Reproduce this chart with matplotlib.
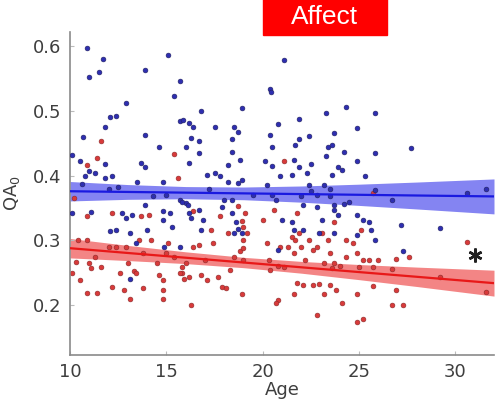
import numpy as np
import matplotlib
matplotlib.use("Agg")
import matplotlib.pyplot as plt
from matplotlib.patches import Rectangle

# ---- data ----
blue_age = [10.9, 11.5, 11.7, 11.0, 10.7, 10.1, 10.5, 10.8, 11.0, 11.3, 10.6, 10.1, 11.1, 11.8, 11.8, 11.8,
            12.1, 12.4, 12.9, 12.2, 12.5, 12.4, 12.1, 12.7, 12.9, 13.2, 13.1, 13.4, 13.1, 13.9, 13.9, 13.7,
            13.9, 14.6, 13.9, 14.0, 14.3, 14.8, 14.8, 14.9, 15.1, 15.4, 15.7, 15.7, 15.85, 16.2, 16.4, 16.8,
            16.3, 16.7, 16.0, 16.2, 16.7, 17.5, 17.1, 17.5, 17.8, 15.7, 16.0, 16.2, 16.3, 16.7, 16.9, 16.8,
            15.2, 15.3, 15.7, 14.8, 18.5, 18.7, 18.4, 18.9, 18.4, 18.2, 18.8, 18.9, 18.7, 18.2, 18.0, 17.9,
            18.4, 18.4, 18.6, 18.7, 18.5, 18.9, 20.4, 20.45, 20.8, 20.4, 21.1, 20.5, 20.1, 20.5, 20.9, 20.2,
            20.7, 21.0, 20.8, 21.9, 21.7, 21.9, 22.4, 21.6, 21.9, 22.3, 22.5, 21.5, 22.4, 22.5, 22.0, 21.5,
            21.6, 22.1, 22.1, 23.3, 24.3, 23.7, 24.9, 23.4, 23.6, 23.3, 24.2, 23.9, 24.1, 24.9, 25.3, 25.8,
            25.8, 27.7, 23.6, 23.2, 23.5, 23.7, 22.8, 23.1, 23.7, 22.9, 24.2, 24.9, 25.2, 25.5, 25.6, 25.8,
            24.9, 27.2, 29.2, 27.3, 26.7, 30.6, 31.6, 25.8,
            12.0, 13.5, 15.0, 17.2, 19.5, 20.5, 22.8, 23.5, 24.5, 16.1, 15.8, 23.7, 23.9]
blue_qa = [0.597, 0.560, 0.581, 0.552, 0.460, 0.432, 0.422, 0.400, 0.407, 0.404, 0.387, 0.342, 0.344, 0.475, 0.418, 0.396,
           0.491, 0.493, 0.513, 0.400, 0.383, 0.316, 0.315, 0.342, 0.334, 0.340, 0.311, 0.296, 0.241, 0.564, 0.463, 0.419,
           0.414, 0.445, 0.355, 0.316, 0.369, 0.391, 0.332, 0.290, 0.587, 0.523, 0.547, 0.484, 0.486, 0.481, 0.475, 0.500,
           0.459, 0.453, 0.445, 0.419, 0.435, 0.476, 0.401, 0.404, 0.399, 0.363, 0.358, 0.342, 0.334, 0.347, 0.332, 0.316,
           0.342, 0.321, 0.290, 0.345, 0.476, 0.468, 0.457, 0.505, 0.437, 0.417, 0.425, 0.394, 0.389, 0.391, 0.363, 0.352,
           0.363, 0.342, 0.329, 0.317, 0.311, 0.311, 0.534, 0.529, 0.480, 0.463, 0.578, 0.445, 0.422, 0.415, 0.400, 0.386,
           0.363, 0.332, 0.285, 0.487, 0.448, 0.456, 0.461, 0.425, 0.414, 0.404, 0.418, 0.401, 0.386, 0.376, 0.368, 0.329,
           0.316, 0.316, 0.355, 0.497, 0.506, 0.466, 0.473, 0.445, 0.448, 0.430, 0.437, 0.414, 0.409, 0.422, 0.400, 0.435,
           0.497, 0.443, 0.401, 0.386, 0.368, 0.347, 0.352, 0.332, 0.311, 0.311, 0.357, 0.339, 0.332, 0.329, 0.316, 0.301,
           0.308, 0.324, 0.319, 0.283, 0.363, 0.373, 0.380, 0.378,
           0.380, 0.390, 0.370, 0.380, 0.370, 0.370, 0.370, 0.380, 0.360, 0.355, 0.360, 0.355, 0.340]

red_age = [10.2, 10.3, 10.1, 10.5, 10.9, 11.4, 10.9, 11.0, 11.1, 11.3, 11.6, 10.9, 10.9, 11.4, 11.6, 10.4,
           12.2, 12.2, 12.4, 12.6, 12.8, 13.1, 13.0, 13.3, 13.4, 13.8, 13.6, 13.8, 13.7, 14.1, 14.6, 14.8,
           14.8, 14.8, 14.5, 15.0, 15.1, 15.4, 15.6, 15.4, 15.8, 15.8, 16.0, 16.3, 16.2, 16.4, 16.7, 16.8,
           17.1, 17.4, 17.7, 17.9, 18.1, 18.3, 18.5, 18.8, 18.9, 19.1, 19.2, 19.0, 18.7, 16.4, 17.3, 17.8,
           18.2, 20.0, 20.2, 20.3, 20.8, 20.7, 20.4, 21.1, 20.6, 21.1, 21.5, 21.7, 21.9, 21.6, 21.6, 21.8,
           22.1, 22.6, 22.9, 22.8, 21.8, 22.2, 22.6, 23.1, 23.4, 23.2, 23.6, 23.7, 23.5, 23.2, 23.8, 24.1,
           24.3, 24.7, 24.9, 24.3, 24.9, 24.9, 25.2, 25.0, 25.5, 25.7, 25.7, 26.7, 26.7, 27.3, 26.9, 26.9,
           27.6, 29.2, 30.6, 31.6, 23.7, 25.1, 25.7,
           19.0, 19.0, 19.0, 18.9, 21.3, 22.0, 22.4, 22.8, 23.5, 24.0, 25.2, 26.0, 15.7, 15.9, 14.2, 12.0,
           12.9, 17.0, 20.8, 20.9]
red_qa = [0.365, 0.267, 0.249, 0.239, 0.219, 0.219, 0.301, 0.265, 0.257, 0.275, 0.259, 0.337, 0.417, 0.427, 0.453, 0.301,
          0.342, 0.228, 0.290, 0.249, 0.223, 0.210, 0.265, 0.252, 0.249, 0.226, 0.301, 0.280, 0.337, 0.340, 0.247, 0.239,
          0.210, 0.223, 0.265, 0.280, 0.296, 0.433, 0.396, 0.275, 0.259, 0.249, 0.265, 0.200, 0.244, 0.290, 0.293, 0.247,
          0.239, 0.296, 0.244, 0.228, 0.226, 0.254, 0.275, 0.283, 0.218, 0.342, 0.311, 0.288, 0.353, 0.345, 0.316, 0.337,
          0.311, 0.332, 0.296, 0.270, 0.208, 0.203, 0.254, 0.422, 0.347, 0.259, 0.306, 0.301, 0.311, 0.280, 0.218, 0.234,
          0.231, 0.231, 0.233, 0.185, 0.342, 0.270, 0.285, 0.311, 0.301, 0.265, 0.257, 0.265, 0.231, 0.218, 0.223, 0.203,
          0.301, 0.296, 0.280, 0.275, 0.218, 0.174, 0.178, 0.259, 0.270, 0.259, 0.229, 0.256, 0.200, 0.200, 0.224, 0.272,
          0.275, 0.244, 0.298, 0.221, 0.329, 0.316, 0.373,
          0.270, 0.300, 0.320, 0.330, 0.290, 0.290, 0.300, 0.290, 0.280, 0.260, 0.270, 0.270, 0.250, 0.240, 0.300, 0.290,
          0.290, 0.270, 0.260, 0.290]

# regression fits and confidence half-widths
fit_age = [10, 13, 16, 19, 22, 25, 28, 32]
blue_fit = [0.3760, 0.3749, 0.3738, 0.3727, 0.3716, 0.3705, 0.3694, 0.3680]
blue_hw = [0.0150, 0.0114, 0.0094, 0.0098, 0.0125, 0.0164, 0.0208, 0.0270]
red_fit = [0.2880, 0.2806, 0.2733, 0.2659, 0.2585, 0.2511, 0.2438, 0.2340]
red_hw = [0.0150, 0.0117, 0.0091, 0.0080, 0.0091, 0.0117, 0.0150, 0.0200]

sig_age, sig_qa = 31.0, 0.277
title = "Affect"
x_ticks = [10, 15, 20, 25, 30]
y_ticks = [0.2, 0.3, 0.4, 0.5, 0.6]

# ---- figure ----
fig = plt.figure(figsize=(5.01, 4.08), dpi=100)
ax = fig.add_axes([70 / 501, 1 - 355 / 408, 424 / 501, 323 / 408])

fa = np.array(fit_age)
bf, bh = np.array(blue_fit), np.array(blue_hw)
rf, rh = np.array(red_fit), np.array(red_hw)

ax.fill_between(fa, bf - bh, bf + bh, color="#6e6ef0", alpha=0.85, lw=0, zorder=1)
ax.fill_between(fa, rf - rh, rf + rh, color="#f27070", alpha=0.85, lw=0, zorder=1)

ax.scatter(red_age, red_qa, s=12, c="#d83a3a", edgecolors="#8a2a2a", linewidths=0.4, zorder=2)
ax.scatter(blue_age, blue_qa, s=12, c="#2e2eb0", edgecolors="#202060", linewidths=0.4, zorder=3)

ax.plot(fa, bf, color="#1a1ae0", lw=1.6, zorder=4)
ax.plot(fa, rf, color="#e81818", lw=1.6, zorder=4)

ax.plot([sig_age], [sig_qa], marker=(6, 2, 0), ms=10, mew=1.8, color="#222222", zorder=5)

ax.set_xlim(10, 32)
ax.set_ylim(0.123, 0.622)
ax.set_xticks(x_ticks)
ax.set_yticks(y_ticks)
ax.set_xticklabels([str(t) for t in x_ticks])
ax.set_yticklabels([f"{t:.1f}" for t in y_ticks])

for s in ["top", "right"]:
    ax.spines[s].set_visible(False)
for s in ["left", "bottom"]:
    ax.spines[s].set_color("#8a8a8a")
    ax.spines[s].set_linewidth(1.2)
ax.tick_params(direction="in", length=3, color="#bbbbbb", labelsize=13, labelcolor="#3e3e3e", pad=6)
ax.set_xlabel("Age", fontsize=13, color="#3e3e3e", labelpad=0)
ax.set_ylabel(r"QA$_0$", fontsize=13, color="#3e3e3e", labelpad=8)

# title box
fig.patches.append(Rectangle((263 / 501, 1 - 35 / 408), 124 / 501, 40 / 408,
                             transform=fig.transFigure, color="#ff0000", zorder=0))
fig.text(325 / 501, 1 - 24 / 408, title, ha="center", va="baseline",
         fontsize=19, color="white", family="Liberation Sans")

fig.savefig("out.png", dpi=100)
